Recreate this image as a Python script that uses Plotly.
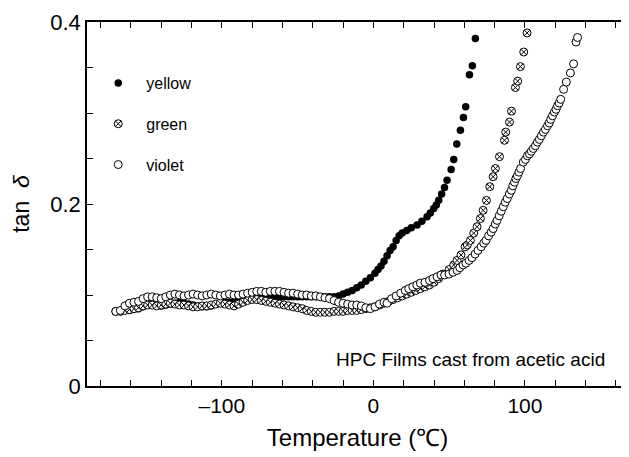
import plotly.graph_objects as go

# ---------------- data ----------------
yellow_T = [-170, -167, -164, -161, -158, -155, -152, -149, -146, -143, -140, -137, -134, -131,
            -128, -125, -122, -119, -116, -113, -110, -107, -104, -101, -98, -95, -92, -89,
            -86, -83, -80, -77, -74, -71, -68, -65, -62, -59, -56, -53, -50, -47, -44, -41,
            -38, -35, -32, -29, -26, -23, -20, -17, -14, -11, -8, -5, -2, 1, 3, 5, 7, 9, 11,
            13, 15, 17, 19, 22, 25, 28.8, 32, 35.4, 37.5, 39.8, 41.5, 43.1, 45, 46.9, 48.6,
            51.3, 53, 55, 57.4, 59.4, 60.9, 63.4, 65.3, 67.3]
yellow_tan = [0.082, 0.082, 0.083, 0.083, 0.084, 0.085, 0.087, 0.089, 0.090, 0.089, 0.088, 0.089,
              0.090, 0.091, 0.092, 0.091, 0.090, 0.089, 0.088, 0.087, 0.087, 0.088, 0.090, 0.091,
              0.092, 0.092, 0.092, 0.093, 0.094, 0.095, 0.096, 0.097, 0.097, 0.097, 0.097, 0.097,
              0.098, 0.098, 0.098, 0.098, 0.098, 0.098, 0.098, 0.098, 0.098, 0.098, 0.098, 0.098,
              0.098, 0.099, 0.101, 0.103, 0.105, 0.108, 0.111, 0.115, 0.119, 0.124, 0.128, 0.132,
              0.137, 0.143, 0.149, 0.153, 0.160, 0.165, 0.168, 0.171, 0.174, 0.177, 0.181, 0.186,
              0.190, 0.195, 0.199, 0.204, 0.211, 0.218, 0.226, 0.238, 0.249, 0.266, 0.281, 0.295,
              0.307, 0.342, 0.352, 0.382]

green_T = [-170, -167, -164, -161, -158, -155, -152, -149, -146, -143, -140, -137, -134, -131,
           -128, -125, -122, -119, -116, -113, -110, -107, -104, -101, -98, -95, -92, -89, -86,
           -83, -80, -77, -74, -71, -68, -65, -62, -59, -56, -53, -50, -47, -44, -41, -38, -35,
           -32, -29, -26, -23, -20, -17, -14, -11, -8, -5, -2, 1, 4, 7, 10, 13, 16, 19, 22, 25,
           28, 31, 34, 37, 40, 43, 46, 50, 53, 55.2, 57.8, 60.5, 62, 64, 66.2, 68.4, 70.6, 72.4,
           74.6, 76.8, 79, 80.5, 83.2, 86.5, 87.3, 89.8, 91.1, 93.7, 95.2, 97, 99.2, 101.4]
green_tan = [0.082, 0.082, 0.083, 0.084, 0.085, 0.086, 0.088, 0.089, 0.089, 0.088, 0.089, 0.090,
             0.091, 0.090, 0.089, 0.089, 0.088, 0.087, 0.087, 0.088, 0.088, 0.089, 0.090, 0.091,
             0.090, 0.089, 0.088, 0.090, 0.092, 0.094, 0.095, 0.095, 0.094, 0.093, 0.092, 0.091,
             0.090, 0.089, 0.088, 0.087, 0.086, 0.085, 0.083, 0.082, 0.081, 0.081, 0.081, 0.081,
             0.082, 0.082, 0.082, 0.083, 0.083, 0.083, 0.084, 0.085, 0.086, 0.087, 0.089, 0.091,
             0.093, 0.095, 0.097, 0.099, 0.101, 0.103, 0.105, 0.107, 0.109, 0.111, 0.114, 0.118,
             0.123, 0.128, 0.133, 0.138, 0.144, 0.153, 0.155, 0.160, 0.168, 0.175, 0.184, 0.193,
             0.204, 0.219, 0.230, 0.239, 0.252, 0.270, 0.279, 0.290, 0.302, 0.328, 0.335, 0.351,
             0.367, 0.388]

violet_T = [-170, -167, -164, -161, -158, -155, -152, -149, -146, -143, -140, -137, -134, -131,
            -128, -125, -122, -119, -116, -113, -110, -107, -104, -101, -98, -95, -92, -89, -86,
            -83, -80, -77, -74, -71, -68, -65, -62, -59, -56, -53, -50, -47, -44, -41, -38, -35,
            -32, -29, -26, -23, -20, -17, -14, -11, -8, -5, -2, 1, 4, 7, 9, 12, 15, 18, 21, 23.3,
            26, 28.6, 31, 34, 37, 39.3, 42, 44.6, 47, 49.9, 52.5, 55.2, 57, 59.2, 61, 63.1, 65,
            67.1, 69, 71.1, 72.8, 74.3, 76, 77.7, 79, 80.4, 81.6, 83, 84.3, 85.7, 87, 88.3, 89.7,
            91, 92, 93.1, 94, 95, 96, 97.1, 98.9, 100.3, 101.6, 103, 104.2, 105.5, 106.9, 108.2,
            109.5, 110.8, 112.2, 113.5, 114.9, 116, 117, 118.2, 119.4, 120.5, 121.5, 122.6, 123.6,
            125.5, 127.3, 130, 132.1, 133.7, 134.7]
violet_tan = [0.082, 0.083, 0.088, 0.091, 0.092, 0.093, 0.096, 0.098, 0.098, 0.097, 0.096, 0.098,
              0.100, 0.101, 0.100, 0.099, 0.100, 0.101, 0.100, 0.099, 0.100, 0.101, 0.100, 0.099,
              0.100, 0.101, 0.100, 0.100, 0.101, 0.102, 0.103, 0.104, 0.104, 0.103, 0.104, 0.104,
              0.104, 0.103, 0.102, 0.102, 0.101, 0.100, 0.100, 0.099, 0.099, 0.098, 0.097, 0.096,
              0.094, 0.092, 0.091, 0.090, 0.089, 0.089, 0.088, 0.086, 0.085, 0.087, 0.090, 0.092,
              0.091, 0.096, 0.099, 0.102, 0.105, 0.107, 0.109, 0.111, 0.113, 0.114, 0.116, 0.118,
              0.120, 0.122, 0.122, 0.123, 0.125, 0.127, 0.130, 0.133, 0.135, 0.138, 0.141, 0.145,
              0.149, 0.153, 0.157, 0.160, 0.165, 0.169, 0.173, 0.178, 0.182, 0.187, 0.192, 0.197,
              0.202, 0.206, 0.211, 0.215, 0.220, 0.224, 0.228, 0.231, 0.235, 0.239, 0.246, 0.249,
              0.253, 0.255, 0.258, 0.261, 0.264, 0.268, 0.271, 0.275, 0.279, 0.282, 0.286, 0.289,
              0.293, 0.297, 0.301, 0.304, 0.308, 0.311, 0.315, 0.326, 0.334, 0.344, 0.354, 0.378,
              0.383]

x_tickvals = [-180, -160, -140, -120, -100, -80, -60, -40, -20, 0, 20, 40, 60, 80, 100, 120, 140, 160]
x_ticktext = ["", "", "", "", "\u2013100", "", "", "", "", "0", "", "", "", "", "100", "", "", ""]
y_tickvals = [0, 0.05, 0.1, 0.15, 0.2, 0.25, 0.3, 0.35, 0.4]
y_ticktext = ["0", "", "", "", "0.2", "", "", "", "0.4"]

FONT = "Liberation Sans, Arial, Helvetica, sans-serif"

fig = go.Figure()
fig.add_trace(go.Scatter(
    x=yellow_T, y=yellow_tan, mode="markers", name="yellow", legendgroup="a",
    marker=dict(symbol="circle", size=7.5, color="black", line=dict(width=0)),
))
fig.add_trace(go.Scatter(
    x=green_T, y=green_tan, mode="markers", name="green", legendgroup="b",
    marker=dict(symbol="circle-x", size=8, color="white", line=dict(width=1, color="black")),
))
fig.add_trace(go.Scatter(
    x=violet_T, y=violet_tan, mode="markers", name="violet", legendgroup="c",
    marker=dict(symbol="circle", size=8, color="white", line=dict(width=1, color="black")),
))

# the page body adds an 8 px margin, so the figure is 8 px smaller than the window
fig.update_layout(
    width=621, height=449,
    margin=dict(l=79, r=1, t=14, b=71, autoexpand=False),
    paper_bgcolor="white", plot_bgcolor="white",
    font=dict(family=FONT, color="black"),
    showlegend=True,
    legend=dict(x=0.006, y=0.879, xanchor="left", yanchor="top",
                bgcolor="rgba(0,0,0,0)", font=dict(size=16, family=FONT),
                traceorder="grouped", tracegroupgap=17, itemwidth=46),
    xaxis=dict(range=[-189, 168], tickvals=x_tickvals, ticktext=x_ticktext,
               ticks="inside", ticklen=6, tickwidth=1, tickcolor="black",
               showline=True, linecolor="black", linewidth=1.5, mirror="ticks",
               showgrid=False, zeroline=False, automargin=False,
               tickfont=dict(size=21, family=FONT),
               title=dict(text="Temperature (\u2103)", font=dict(size=24, family=FONT), standoff=13)),
    yaxis=dict(range=[0, 0.4], tickvals=y_tickvals, ticktext=y_ticktext,
               ticks="inside", ticklen=6, tickwidth=1, tickcolor="black",
               showline=True, linecolor="black", linewidth=1.5, mirror="ticks",
               showgrid=False, zeroline=False, automargin=False,
               tickfont=dict(size=22, family=FONT),
               title=dict(text="tan  <i>\u03b4</i>", font=dict(size=23, family=FONT), standoff=22)),
    annotations=[dict(text="HPC Films cast from acetic acid", xref="paper", yref="paper",
                      x=0.961, y=0.072, xanchor="right", yanchor="middle", showarrow=False,
                      font=dict(size=19, family=FONT))],
)

fig.write_html("out.html")
